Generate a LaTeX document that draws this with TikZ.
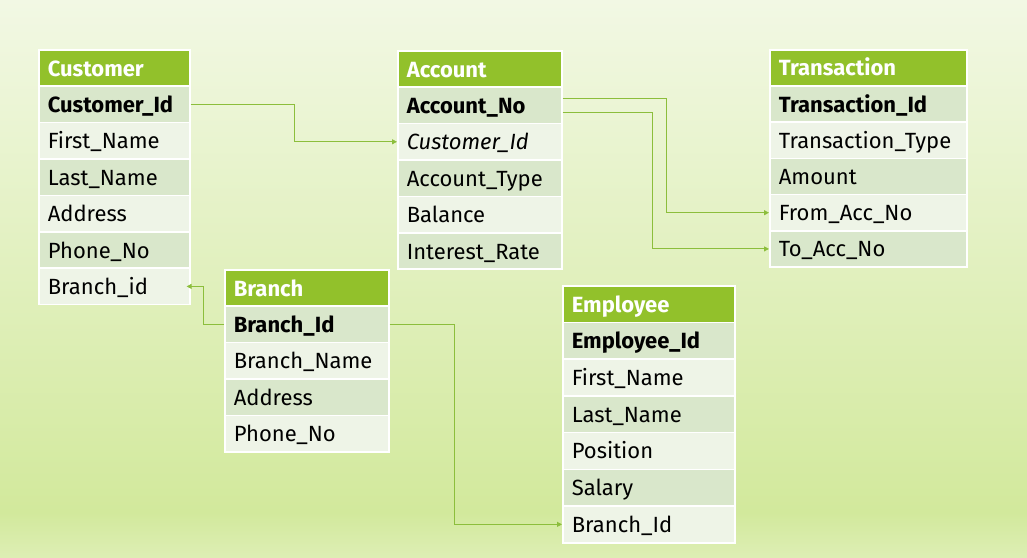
\documentclass[tikz,border=0pt]{standalone}
\usepackage{fontspec}
\setmainfont{Fira Sans}
\usetikzlibrary{arrows.meta}
\definecolor{bgtop}{HTML}{F2F8E4}
\definecolor{bgmid}{HTML}{D2E99C}
\definecolor{bgbot}{HTML}{DDEEB4}
\definecolor{hdrgreen}{HTML}{92C12B}
\definecolor{rowdark}{HTML}{D9E7CB}
\definecolor{rowlight}{HTML}{EEF4E7}
\definecolor{conngreen}{HTML}{8CBE3C}
\pgfdeclareverticalshading{bgshade}{100bp}{color(0bp)=(bgbot); color(25bp)=(bgbot); color(29bp)=(bgmid); color(75bp)=(bgtop); color(100bp)=(bgtop)}
\begin{document}
\begin{tikzpicture}[x=1pt,y=-1pt,
  cellbase/.style={anchor=north west, draw=white, line width=1.6pt, inner xsep=9pt, inner ysep=0pt,
    align=left, text height=18pt, text depth=2pt, font=\fontsize{22}{26}\selectfont},
  hdr/.style={cellbase, fill=hdrgreen, text=white, font=\fontsize{22}{26}\selectfont\bfseries},
  dk/.style={cellbase, fill=rowdark},
  lt/.style={cellbase, fill=rowlight},
  conn/.style={draw=conngreen, line width=0.9pt, -{Triangle[length=5pt,width=5pt]}}
]
\useasboundingbox (0,0) rectangle (1027,557);
\shade[shading=bgshade] (0,0) rectangle (1027,557);

% Customer
\tikzset{cw/.style={text width=133pt, minimum height=36.4pt}}
\node[hdr,cw] (c0) at (38,49) {Customer};
\node[dk,cw]  (c1) at (38,85.4) {\textbf{Customer\_Id}};
\node[lt,cw]  (c2) at (38,121.8) {First\_Name};
\node[dk,cw]  (c3) at (38,158.2) {Last\_Name};
\node[lt,cw]  (c4) at (38,194.6) {Address};
\node[dk,cw]  (c5) at (38,231.0) {Phone\_No};
\node[lt,cw]  (c6) at (38,267.4) {Branch\_id};

% Account
\tikzset{aw/.style={text width=146pt, minimum height=36.4pt}}
\node[hdr,aw] (a0) at (397,50) {Account};
\node[dk,aw]  (a1) at (397,86.4) {\textbf{Account\_No}};
\node[lt,aw]  (a2) at (397,122.8) {\textit{Customer\_Id}};
\node[dk,aw]  (a3) at (397,159.2) {Account\_Type};
\node[lt,aw]  (a4) at (397,195.6) {Balance};
\node[dk,aw]  (a5) at (397,232.0) {Interest\_Rate};

% Transaction
\tikzset{tw/.style={text width=179pt, minimum height=36.2pt}}
\node[hdr,tw] (t0) at (769,49) {Transaction};
\node[dk,tw]  (t1) at (769,85.2) {\textbf{Transaction\_Id}};
\node[lt,tw]  (t2) at (769,121.4) {Transaction\_Type};
\node[dk,tw]  (t3) at (769,157.6) {Amount};
\node[lt,tw]  (t4) at (769,193.8) {From\_Acc\_No};
\node[dk,tw]  (t5) at (769,230.0) {To\_Acc\_No};

% Branch
\tikzset{bw/.style={text width=146pt, minimum height=36.4pt}}
\node[hdr,bw] (b0) at (224,269) {Branch};
\node[dk,bw]  (b1) at (224,305.4) {\textbf{Branch\_Id}};
\node[lt,bw]  (b2) at (224,341.8) {Branch\_Name};
\node[dk,bw]  (b3) at (224,378.2) {Address};
\node[lt,bw]  (b4) at (224,414.6) {Phone\_No};

% Employee
\tikzset{ew/.style={text width=154pt, minimum height=36.7pt}}
\node[hdr,ew] (e0) at (562,285) {Employee};
\node[dk,ew]  (e1) at (562,321.7) {\textbf{Employee\_Id}};
\node[lt,ew]  (e2) at (562,358.4) {First\_Name};
\node[dk,ew]  (e3) at (562,395.1) {Last\_Name};
\node[lt,ew]  (e4) at (562,431.8) {Position};
\node[dk,ew]  (e5) at (562,468.5) {Salary};
\node[lt,ew]  (e6) at (562,505.2) {Branch\_Id};

% Connectors
\draw[conn] (c1.east) -- ++(104,0) |- (a2.west);
\draw[conn] ([yshift=7pt]a1.east) -- ++(104,0) |- (t4.west);
\draw[conn] ([yshift=-7pt]a1.east) -- ++(90,0) |- (t5.west);
\draw[conn] (b1.west) -- ++(-21,0) |- ([xshift=-4pt]c6.east);
\draw[conn] (b1.east) -- ++(65,0) |- (e6.west);
\end{tikzpicture}
\end{document}
